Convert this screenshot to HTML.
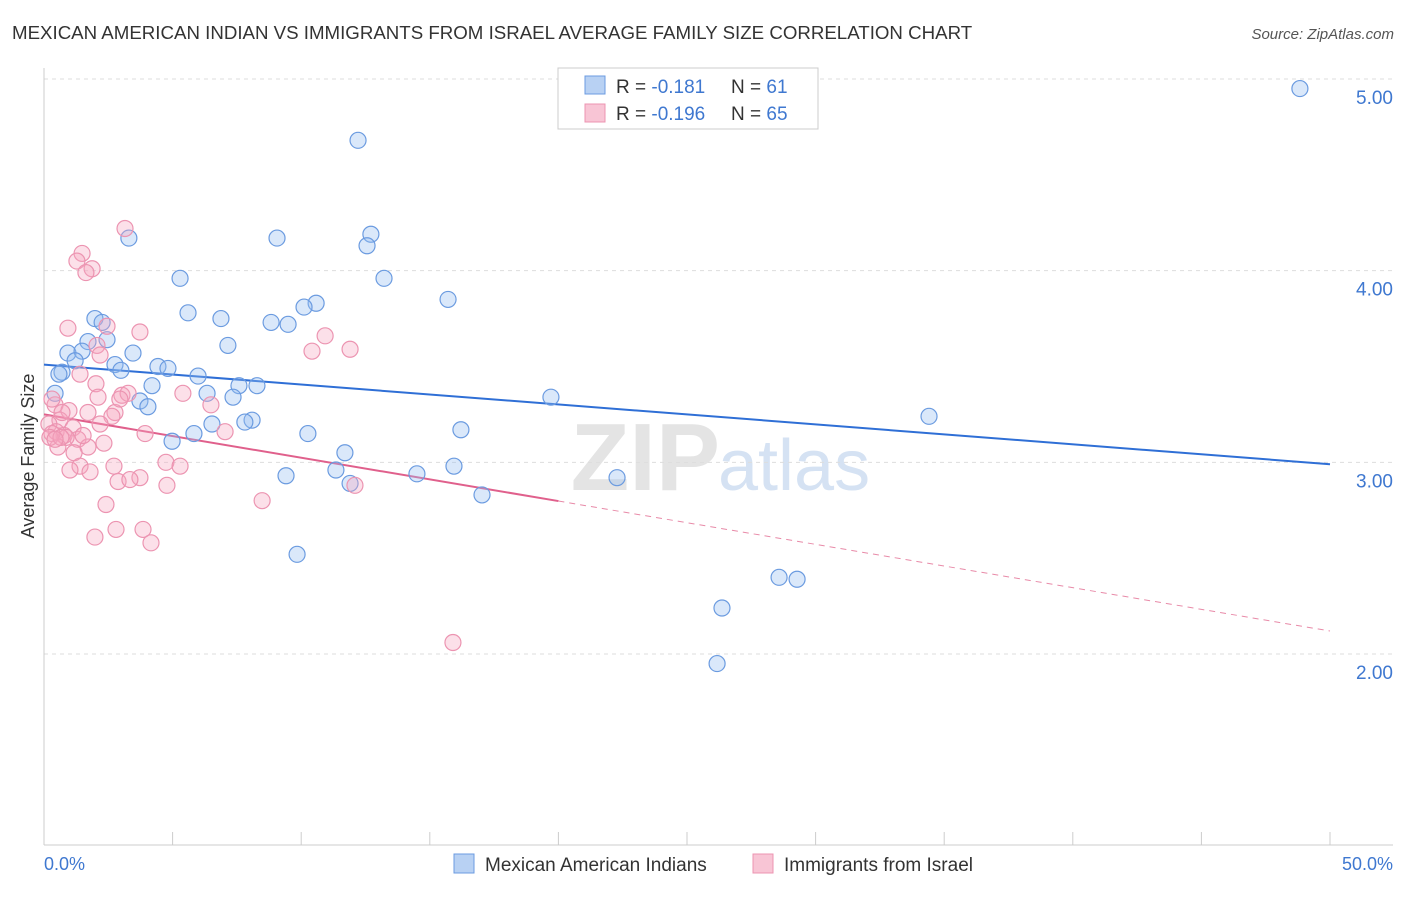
<!DOCTYPE html>
<html><head><meta charset="utf-8"><style>
body{margin:0;background:#fff;font-family:"Liberation Sans",sans-serif;}
svg text{font-family:"Liberation Sans",sans-serif;}
</style></head><body>
<svg id="chart" width="1406" height="892">
<text x="12" y="39" font-size="18.7" fill="#333">MEXICAN AMERICAN INDIAN VS IMMIGRANTS FROM ISRAEL AVERAGE FAMILY SIZE CORRELATION CHART</text>
<text x="1394" y="39" font-size="15" fill="#555" text-anchor="end" font-style="italic">Source: ZipAtlas.com</text>
<text x="720" y="490" font-size="96" fill="#e4e4e4" text-anchor="end" font-family="Liberation Serif" font-weight="bold">ZIP</text>
<text x="718" y="490" font-size="72" fill="#d5e2f3">atlas</text>
<g id="grid"></g><g id="axes"></g><g id="trend"></g><g id="pts"></g>
<text transform="translate(34,456) rotate(-90)" font-size="18" fill="#333" text-anchor="middle">Average Family Size</text>
<text x="44" y="870" font-size="18" fill="#3f78d0">0.0%</text>
<text x="1393" y="870" font-size="18" fill="#3f78d0" text-anchor="end">50.0%</text>
<g>
<rect x="558" y="68" width="260" height="61" fill="#fff" stroke="#ccc"/>
<rect x="585" y="76" width="20" height="18" fill="#b8d1f3" stroke="#6b9be0"/>
<rect x="585" y="104" width="20" height="18" fill="#f8c5d5" stroke="#ec94b1"/>
<text x="616" y="93" font-size="19" fill="#333">R = <tspan fill="#3f78d0">-0.181</tspan><tspan x="731">N = </tspan><tspan fill="#3f78d0">61</tspan></text>
<text x="616" y="120" font-size="19" fill="#333">R = <tspan fill="#3f78d0">-0.196</tspan><tspan x="731">N = </tspan><tspan fill="#3f78d0">65</tspan></text>
</g>
<g>
<rect x="454" y="854" width="20" height="19" fill="#b8d1f3" stroke="#6b9be0"/>
<text x="485" y="871" font-size="19" fill="#333">Mexican American Indians</text>
<rect x="753" y="854" width="20" height="19" fill="#f8c5d5" stroke="#ec94b1"/>
<text x="784" y="871" font-size="19" fill="#333">Immigrants from Israel</text>
</g>
</svg>
<script>
const yTicks=[2,3,4,5];
const yTickLabels=["2.00","3.00","4.00","5.00"];
const blueX=[48.83,12.21,3.30,9.06,12.71,12.56,5.29,13.22,15.71,10.58,10.11,5.60,6.88,1.98,2.26,8.83,9.49,2.45,1.71,7.15,0.93,3.46,1.48,1.21,2.76,4.43,0.70,2.99,4.82,5.99,4.20,7.58,8.28,6.34,7.35,19.71,0.43,3.73,4.04,34.41,8.09,7.81,6.53,16.21,10.26,5.83,4.98,11.70,15.94,11.35,9.41,14.50,22.28,11.90,17.03,9.84,28.58,29.28,26.36,26.17,0.58];
const blueY=[4.95,4.68,4.17,4.17,4.19,4.13,3.96,3.96,3.85,3.83,3.81,3.78,3.75,3.75,3.73,3.73,3.72,3.64,3.63,3.61,3.57,3.57,3.58,3.53,3.51,3.50,3.47,3.48,3.49,3.45,3.40,3.40,3.40,3.36,3.34,3.34,3.36,3.32,3.29,3.24,3.22,3.21,3.20,3.17,3.15,3.15,3.11,3.05,2.98,2.96,2.93,2.94,2.92,2.89,2.83,2.52,2.40,2.39,2.24,1.95,3.46];
const pinkX=[3.15,1.48,1.28,1.87,1.63,0.93,2.45,3.73,10.93,10.42,11.90,2.06,1.40,2.02,3.03,3.27,5.40,0.43,0.31,0.97,1.71,2.76,2.64,6.49,0.62,2.18,1.13,0.19,0.47,0.78,1.32,0.86,3.93,7.04,2.33,1.71,0.54,1.17,0.31,2.72,1.40,4.74,5.29,3.73,1.79,2.88,12.09,3.34,4.78,2.41,8.48,2.80,3.85,1.98,4.16,15.90,0.23,0.66,0.43,1.52,1.01,2.95,2.10,2.18,0.70];
const pinkY=[4.22,4.09,4.05,4.01,3.99,3.70,3.71,3.68,3.66,3.58,3.59,3.61,3.46,3.41,3.35,3.36,3.36,3.30,3.33,3.27,3.26,3.26,3.24,3.30,3.22,3.20,3.18,3.20,3.16,3.14,3.12,3.13,3.15,3.16,3.10,3.08,3.08,3.05,3.15,2.98,2.98,3.00,2.98,2.92,2.95,2.90,2.88,2.91,2.88,2.78,2.80,2.65,2.65,2.61,2.58,2.06,3.13,3.13,3.12,3.14,2.96,3.33,3.34,3.56,3.26];
const blueTrend=[3.51,2.99];
const pinkTrend=[3.25,2.12];
const pinkSolidEnd=20;

const NS="http://www.w3.org/2000/svg";
const X0=44,X1=1330,YT=79,YB=654;
const sx=v=>X0+(v/50)*(X1-X0);
const sy=v=>YT+(5-v)*(YB-YT)/3;
function mk(tag,attrs,parent){const e=document.createElementNS(NS,tag);for(const k in attrs)e.setAttribute(k,attrs[k]);document.getElementById(parent).appendChild(e);return e;}
yTicks.forEach((t,i)=>{
  const l=mk('line',{x1:X0,x2:1393,y1:sy(t),y2:sy(t),stroke:'#ddd','stroke-dasharray':'4,4'},'grid');
  
  
  const tx=mk('text',{x:1393,y:sy(t)+25,'font-size':19,fill:'#3f78d0','text-anchor':'end'},'grid');
  tx.textContent=yTickLabels[i];
  
  
});
const ax=mk('line',{x1:X0,x2:1393,y1:845,y2:845,stroke:'#ccc'},'axes');


const ay=mk('line',{x1:X0,x2:X0,y1:68,y2:845,stroke:'#ccc'},'axes');


for(let p=0;p<=50;p+=5){
  const t=mk('line',{x1:sx(p),x2:sx(p),y1:832,y2:845,stroke:'#ccc'},'axes');
  
  
}
function pts(xs,ys,fill,stroke,name){
  xs.forEach((x,i)=>{
    const c=mk('circle',{cx:sx(x),cy:sy(ys[i]),r:8,fill:fill,stroke:stroke,'stroke-width':1.2},'pts');
    
    
  });
}
pts(blueX,blueY,'rgba(150,188,240,0.35)','#6b9be0','blue-point');
pts(pinkX,pinkY,'rgba(245,165,192,0.35)','#ec94b1','pink-point');
const bt=mk('line',{x1:sx(0),y1:sy(blueTrend[0]),x2:sx(50),y2:sy(blueTrend[1]),stroke:'#2f6fd6','stroke-width':2},'trend');


const pm=pinkTrend[0]+(pinkTrend[1]-pinkTrend[0])*pinkSolidEnd/50;
const ps=mk('line',{x1:sx(0),y1:sy(pinkTrend[0]),x2:sx(pinkSolidEnd),y2:sy(pm),stroke:'#e0608c','stroke-width':2},'trend');


const pd=mk('line',{x1:sx(pinkSolidEnd),y1:sy(pm),x2:sx(50),y2:sy(pinkTrend[1]),stroke:'#e88aa8','stroke-width':1,'stroke-dasharray':'6,5'},'trend');


</script>
</body></html>
